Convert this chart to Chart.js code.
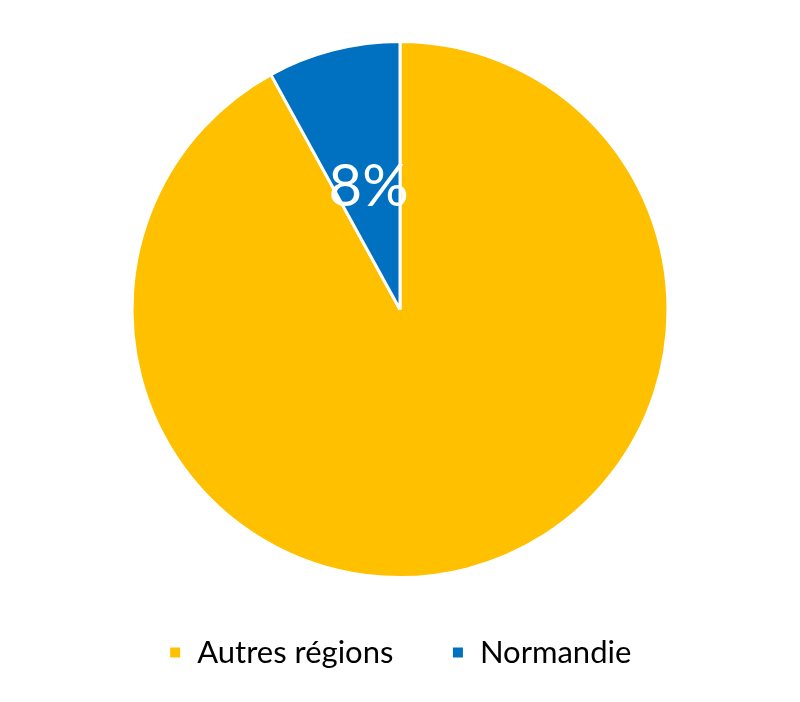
<!DOCTYPE html>
<html>
<head>
<meta charset="utf-8">
<script src="https://cdn.jsdelivr.net/npm/chart.js@4"></script>
<style>
  html, body { margin: 0; padding: 0; background: #fff; }
  #wrap { width: 800px; height: 702px; }
</style>
</head>
<body>
<div id="wrap"><canvas id="chartRegions"></canvas></div>
<script>
var labels = ['Autres régions', 'Normandie'];
var values = [92, 8];
var colors = ['#FFC000', '#0070C0'];
var shownLabels = ['', '8%'];

// draw the percentage inside the slice
var sliceLabels = {
    id: 'sliceLabels',
    afterDatasetsDraw(chart) {
        var ctx = chart.ctx;
        var meta = chart.getDatasetMeta(0);
        ctx.save();
        ctx.fillStyle = '#fff';
        ctx.font = '400 58px Lato';
        ctx.textAlign = 'center';
        ctx.textBaseline = 'middle';
        meta.data.forEach(function (arc, i) {
            if (!shownLabels[i]) return;
            var p = arc.getProps(['x', 'y', 'startAngle', 'endAngle', 'outerRadius'], true);
            var mid = (p.startAngle + p.endAngle) / 2;
            var r = p.outerRadius * 0.47;
            ctx.fillText(shownLabels[i], p.x + Math.cos(mid) * r, p.y + Math.sin(mid) * r);
        });
        ctx.restore();
    }
};

var ctx = document.getElementById('chartRegions').getContext('2d');
new Chart(ctx, {
    type: 'pie',
    data: {
        labels: labels,
        datasets: [{
            data: values,
            backgroundColor: colors,
            borderColor: '#fff',
            borderWidth: 3
        }]
    },
    options: {
        responsive: true,
        maintainAspectRatio: false,
        animation: false,
        layout: { padding: { top: 40, bottom: 24 } },
        plugins: {
            tooltip: { enabled: false },
            legend: {
                position: 'bottom',
                labels: {
                    font: { family: 'Lato', size: 31 },
                    color: '#000',
                    boxWidth: 13,
                    boxHeight: 13,
                    padding: 58
                }
            }
        }
    },
    plugins: [sliceLabels]
});
</script>
</body>
</html>
